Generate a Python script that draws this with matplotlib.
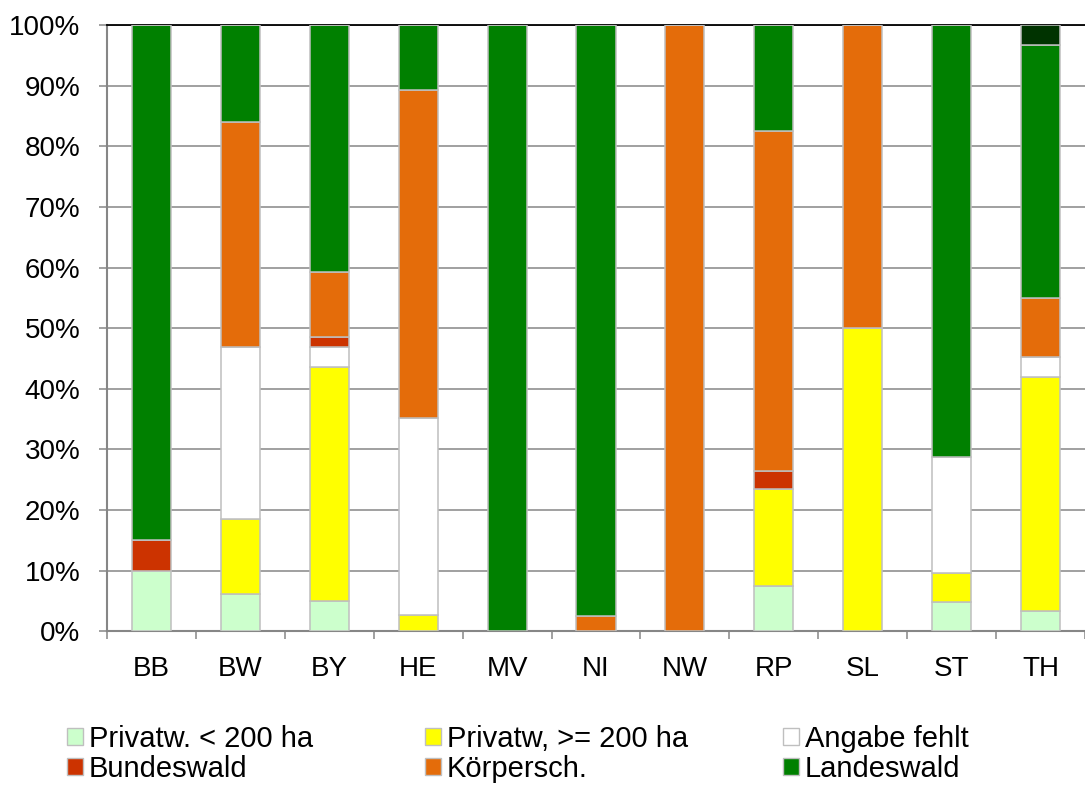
import numpy as np
import matplotlib.pyplot as plt
from matplotlib.patches import Patch

plt.rcParams['font.family'] = ['Liberation Sans', 'DejaVu Sans']

# Data (share of forest area per owner type, %)
laender = ['BB', 'BW', 'BY', 'HE', 'MV', 'NI', 'NW', 'RP', 'SL', 'ST', 'TH']
priv_klein = [10.0, 6.1, 5.0, 0, 0, 0, 0, 7.4, 0, 4.8, 3.3]
priv_gross = [0, 12.4, 38.6, 2.6, 0, 0, 0, 16.1, 50.0, 4.8, 38.7]
angabe_fehlt = [0, 28.4, 3.3, 32.6, 0, 0, 0, 0, 0, 19.2, 3.3]
bundeswald = [5.0, 0, 1.7, 0, 0, 0, 0, 2.9, 0, 0, 0]
koerpersch = [0, 37.1, 10.6, 54.1, 0, 2.5, 100.0, 56.1, 50.0, 0, 9.6]
landeswald = [85.0, 16.0, 40.8, 10.7, 100.0, 97.5, 0, 17.5, 0, 71.2, 41.9]
sonstige = [0, 0, 0, 0, 0, 0, 0, 0, 0, 0, 3.2]

series = [
    ('Privatw. < 200 ha', priv_klein, '#CCFFCC'),
    ('Privatw, >= 200 ha', priv_gross, '#FFFF00'),
    ('Angabe fehlt', angabe_fehlt, '#FFFFFF'),
    ('Bundeswald', bundeswald, '#CC3300'),
    ('Körpersch.', koerpersch, '#E46C0A'),
    ('Landeswald', landeswald, '#008000'),
    ('sonstige', sonstige, '#003300'),
]

fig = plt.figure(figsize=(10.85, 7.85), dpi=100)
ax = fig.add_axes([0.0986, 0.196, 0.9014, 0.772])

x = np.arange(len(laender))
bottom = np.zeros(len(laender))
for name, vals, col in series:
    vals = np.array(vals, dtype=float)
    ax.bar(x, vals, width=0.44, bottom=bottom, color=col,
           edgecolor='#BFBFBF', linewidth=1.1, zorder=3)
    bottom += vals

# Axes styling
ax.set_xlim(-0.5, len(laender) - 0.5)
ax.set_ylim(0, 100)
ax.set_yticks(np.arange(0, 101, 10))
ax.set_yticklabels([f'{v}%' for v in range(0, 101, 10)])
ax.yaxis.grid(True, color='#868686', linewidth=1.1, zorder=0)

ax.set_xticks(np.arange(-0.5, len(laender), 1.0))
ax.set_xticklabels([])
ax.set_xticks(x, minor=True)
ax.set_xticklabels(laender, minor=True)
ax.tick_params(axis='x', which='major', length=6, width=1.1, color='#868686')
ax.tick_params(axis='x', which='minor', length=0, pad=18, labelsize=20)
ax.tick_params(axis='y', length=6, width=1.1, color='#868686', pad=13, labelsize=20)

for side in ['left', 'bottom']:
    ax.spines[side].set_color('#868686')
    ax.spines[side].set_linewidth(1.5)
ax.spines['top'].set_color('black')
ax.spines['top'].set_linewidth(1.3)
ax.spines['right'].set_visible(False)

# Legend: three columns, two rows
columns = [[0, 3], [1, 4], [2, 5]]
col_x = [0.0618, 0.3917, 0.7217]
for cx, idx in zip(col_x, columns):
    handles = [Patch(facecolor=series[i][2], edgecolor='#BFBFBF', linewidth=1.0,
                     label=series[i][0]) for i in idx]
    fig.legend(handles=handles, loc='upper left', bbox_to_anchor=(cx, 0.0765),
               frameon=False, fontsize=21, handlelength=0.55, handleheight=0.55,
               handletextpad=0.2, labelspacing=0.06, borderpad=0, borderaxespad=0)

fig.savefig('out.png', dpi=100)
